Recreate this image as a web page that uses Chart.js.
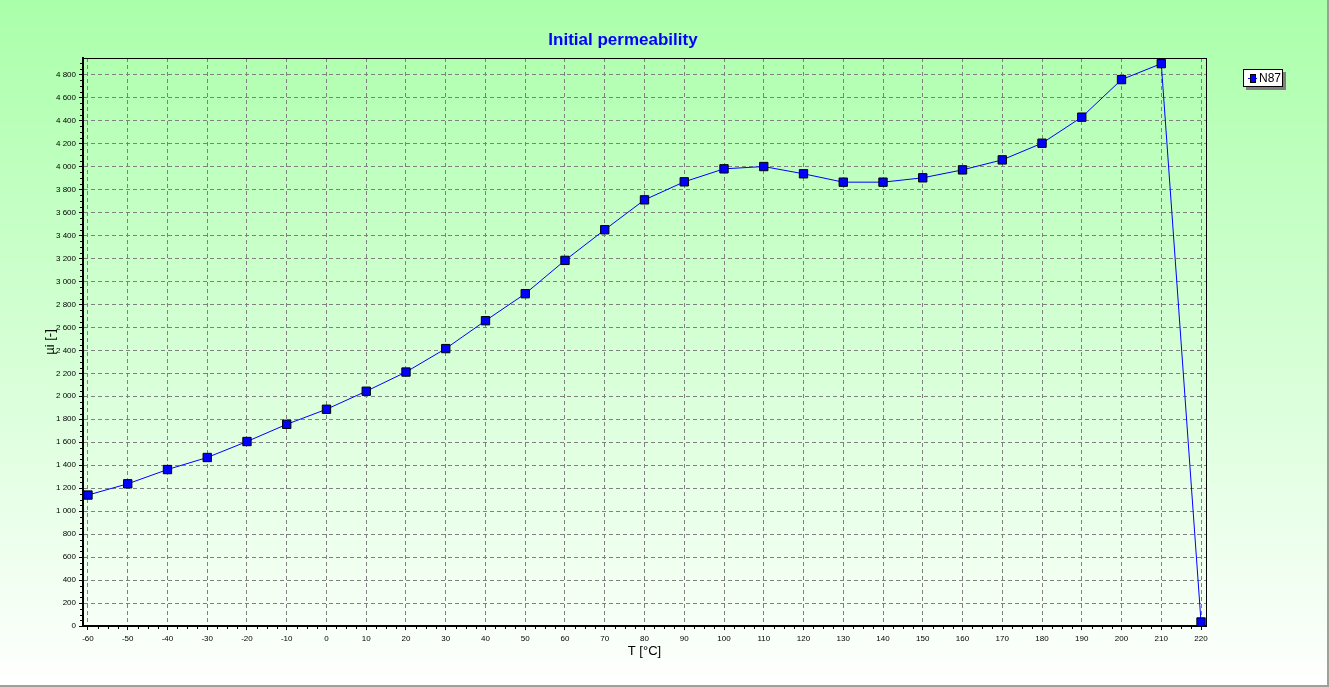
<!DOCTYPE html>
<html>
<head>
<meta charset="utf-8">
<script src="https://cdn.jsdelivr.net/npm/chart.js@4.4.1/dist/chart.umd.min.js"></script>
<style>
html,body{margin:0;padding:0;overflow:hidden;background:#fff;}
#wrap{width:1329px;height:687px;position:relative;}
canvas{display:block;}
</style>
</head>
<body>
<div id="wrap"><canvas id="c" width="1329" height="687"></canvas></div>
<script>
// ---- data ----
const temperatures = [-60,-50,-40,-30,-20,-10,0,10,20,30,40,50,60,70,80,90,100,110,120,130,140,150,160,170,180,190,200,210,220];
const permeability = [1140,1238,1362,1467,1606,1756,1887,2044,2211,2415,2658,2893,3183,3450,3710,3867,3980,4000,3937,3864,3864,3902,3971,4058,4203,4430,4757,4896,35];
const xTickValues = [-60,-50,-40,-30,-20,-10,0,10,20,30,40,50,60,70,80,90,100,110,120,130,140,150,160,170,180,190,200,210,220];
const yTickValues = [0,200,400,600,800,1000,1200,1400,1600,1800,2000,2200,2400,2600,2800,3000,3200,3400,3600,3800,4000,4200,4400,4600,4800];
const seriesName = 'N87';
const chartTitle = 'Initial permeability';
const xAxisTitle = 'T [°C]';
const yAxisTitle = 'µi [-]';

const SMALL = "'Liberation Sans',Arial,sans-serif";
const SANS = "'Liberation Sans',Arial,sans-serif";

function fmt(v){ return String(v).replace(/\B(?=(\d{3})+(?!\d))/g,' '); }

const bgPlugin = {
  id:'bg',
  beforeDraw(chart){
    const ctx = chart.ctx;
    const g = ctx.createLinearGradient(0,0,0,chart.height);
    g.addColorStop(0,'#aaffaa');
    g.addColorStop(1,'#ffffff');
    ctx.save();
    ctx.fillStyle = g;
    ctx.fillRect(0,0,chart.width,chart.height);
    ctx.restore();
  },
  afterDraw(chart){
    const ctx = chart.ctx;
    const xs = chart.scales.x, ys = chart.scales.y;
    const area = chart.chartArea;
    ctx.save();
    ctx.strokeStyle = '#000';
    ctx.lineWidth = 1;
    // minor ticks x
    ctx.beginPath();
    for (let i=0;i<xTickValues.length-1;i++){
      const a = xTickValues[i], b = xTickValues[i+1];
      for (let k=1;k<4;k++){
        const px = Math.round(xs.getPixelForValue(a+(b-a)*k/4))+0.5;
        ctx.moveTo(px, area.bottom+1);
        ctx.lineTo(px, area.bottom+3);
      }
    }
    // minor ticks y
    for (let i=0;i<yTickValues.length-1;i++){
      const a = yTickValues[i], b = yTickValues[i+1];
      for (let k=1;k<4;k++){
        const py = Math.round(ys.getPixelForValue(a+(b-a)*k/4))+0.5;
        ctx.moveTo(area.left-1, py);
        ctx.lineTo(area.left-3, py);
      }
    }
    {
      const a = yTickValues[yTickValues.length-1], st = yTickValues[1]-yTickValues[0];
      for (let k=1;k<4;k++){
        const v = a+st*k/4;
        if (v > ys.max) break;
        const py = Math.round(ys.getPixelForValue(v))+0.5;
        ctx.moveTo(area.left-1, py);
        ctx.lineTo(area.left-3, py);
      }
    }
    ctx.stroke();

    // legend
    const lx = 1243, ly = 69, lw = 40, lh = 18;
    ctx.fillStyle = '#808080';
    ctx.fillRect(lx+3, ly+3, lw, lh);
    ctx.fillStyle = '#ffffff';
    ctx.fillRect(lx, ly, lw, lh);
    ctx.strokeStyle = '#000';
    ctx.strokeRect(lx+0.5, ly+0.5, lw-1, lh-1);
    ctx.strokeStyle = '#0000ff';
    ctx.beginPath();
    ctx.moveTo(lx+5, ly+9.5); ctx.lineTo(lx+14, ly+9.5);
    ctx.stroke();
    ctx.fillStyle = '#0000ff';
    ctx.fillRect(lx+8, ly+5, 4, 8);
    ctx.strokeStyle = '#000';
    ctx.strokeRect(lx+7.5, ly+5.5, 5, 8);
    ctx.fillStyle = '#000';
    ctx.font = "12px " + SANS;
    ctx.textBaseline = 'middle';
    ctx.textAlign = 'left';
    ctx.fillText(chart.data.datasets[0].label, lx+16, ly+lh/2+0.5);

    // outer border
    ctx.fillStyle = '#a0a09a';
    ctx.fillRect(chart.width-2, 0, 2, chart.height);
    ctx.fillRect(0, chart.height-2, chart.width, 2);
    ctx.restore();
  }
};

const gridCommon = {
  color:'#808080',
  lineWidth:1,
  tickColor:'#000',
  tickLength:4,
  drawTicks:true
};

new Chart(document.getElementById('c'), {
  type:'line',
  data:{
    datasets:[{
      label: seriesName,
      data: temperatures.map((t,i)=>({x:t, y:permeability[i]})),
      borderColor:'#0000ff',
      borderWidth:1,
      backgroundColor:'#0000ff',
      pointStyle:'rect',
      pointRadius:5.9,
      pointHoverRadius:5.9,
      pointBorderWidth:1,
      pointBorderColor:'#000',
      pointBackgroundColor:'#0000ff',
      tension:0,
      clip:false,
      fill:false
    }]
  },
  options:{
    responsive:false,
    animation:false,
    devicePixelRatio:1,
    events:[],
    layout:{padding:{left:0,right:83,top:0,bottom:0}},
    plugins:{
      legend:{display:false},
      tooltip:{enabled:false},
      title:{
        display:true,
        text: chartTitle,
        color:'#0000ff',
        font:{family:SANS, size:17, weight:'bold', lineHeight:1.2},
        padding:{top:30.6, bottom:7}
      }
    },
    scales:{
      x:{
        type:'linear',
        position:'bottom',
        min:-61.25,
        max:221.25,
        afterBuildTicks(s){ s.ticks = xTickValues.map(v=>({value:v})); },
        afterFit(s){ s.height = 61; },
        ticks:{
          color:'#000',
          font:{family:SMALL, size:8},
          padding:4,
          maxRotation:0,
          autoSkip:false,
          callback:(v)=>String(v)
        },
        grid: gridCommon,
        border:{display:true, color:'#000', width:2, dash:[4,3]},
        title:{
          display:true,
          text:xAxisTitle,
          color:'#000',
          font:{family:SANS, size:13, lineHeight:1.2},
          padding:{top:0,bottom:28.2}
        }
      },
      x2:{
        type:'linear',
        position:'top',
        display:true,
        afterFit(s){ s.height = 0; },
        ticks:{display:false},
        grid:{display:false},
        border:{display:true, color:'#000', width:1}
      },
      y:{
        type:'linear',
        position:'left',
        min:0,
        max:4945,
        afterBuildTicks(s){ s.ticks = yTickValues.map(v=>({value:v})); },
        afterFit(s){ s.width = 83; },
        ticks:{
          color:'#000',
          font:{family:SMALL, size:8},
          padding:3,
          autoSkip:false,
          callback:(v)=>fmt(v)
        },
        grid: gridCommon,
        border:{display:true, color:'#000', width:2, dash:[4,3]},
        title:{
          display:true,
          text:yAxisTitle,
          color:'#000',
          font:{family:SANS, size:13, lineHeight:1.2},
          padding:{top:43,bottom:0}
        }
      },
      y2:{
        type:'linear',
        position:'right',
        display:true,
        afterFit(s){ s.width = 40; },
        ticks:{display:false},
        grid:{display:false},
        border:{display:true, color:'#000', width:1}
      }
    }
  },
  plugins:[bgPlugin]
});
</script>
</body>
</html>
